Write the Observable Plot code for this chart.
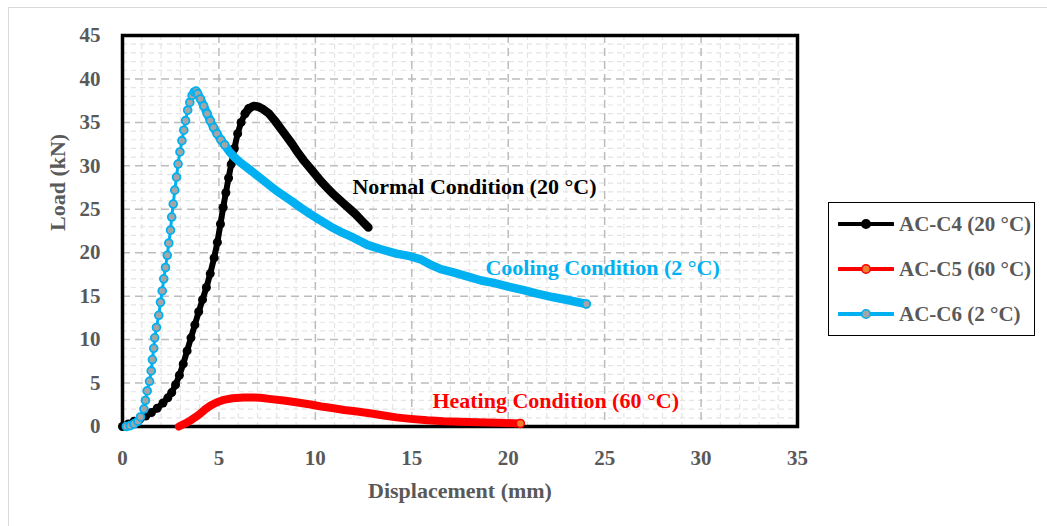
<!DOCTYPE html>
<html><head><meta charset="utf-8">
<script src="https://cdn.jsdelivr.net/npm/d3@7"></script>
<script src="https://cdn.jsdelivr.net/npm/@observablehq/plot@0.6"></script>
<style>
html,body{margin:0;padding:0;background:#fff;}
body{width:1047px;height:526px;overflow:hidden;position:relative;font-family:"Liberation Serif",serif;}
#outer{position:absolute;left:8px;top:7px;width:1100px;height:600px;border:1.5px solid #d9d9d9;box-sizing:border-box;}
#chart{position:absolute;left:0;top:0;}
#legend{position:absolute;left:828px;top:202px;width:207px;height:134px;border:1.5px solid #000;box-sizing:border-box;background:#fff;}
.row{position:absolute;left:9px;height:26px;display:flex;align-items:center;font-weight:bold;font-size:21px;color:#595959;white-space:nowrap;}
.row svg{margin-right:5px;}
</style>
</head>
<body>
<div id="outer"></div>
<div id="chart"></div>
<div id="legend"></div>
<script>
// ---- data ----
const xTicks = [0, 5, 10, 15, 20, 25, 30, 35];
const yTicks = [0, 5, 10, 15, 20, 25, 30, 35, 40, 45];

// AC-C4 (20 °C) — Normal condition
const c4X = [0, 0.3, 0.6, 0.9, 1.2, 1.5, 1.8, 2.1, 2.35, 2.55, 2.75, 2.95, 3.15, 3.35, 3.55, 3.75, 3.95, 4.15, 4.35, 4.55, 4.75, 4.92, 5.08, 5.22, 5.36, 5.5, 5.64, 5.8, 5.97, 6.15, 6.35, 6.55, 6.8, 7.05, 7.3, 7.6, 7.9, 8.2, 8.5, 8.8, 9.1, 9.4, 9.7, 10.0, 10.3, 10.6, 10.9, 11.2, 11.5, 11.8, 12.1, 12.4, 12.75];
const c4Y = [0, 0.3, 0.6, 0.85, 1.2, 1.6, 2.1, 2.7, 3.3, 3.9, 4.8, 5.9, 7.2, 8.7, 10.2, 11.7, 13.2, 14.6, 16.0, 17.6, 19.4, 21.2, 23.3, 25.2, 26.9, 28.6, 30.2, 32.0, 33.7, 35.0, 36.0, 36.6, 36.9, 36.8, 36.5, 36.0, 35.2, 34.3, 33.4, 32.5, 31.5, 30.6, 29.8, 29.0, 28.2, 27.5, 26.8, 26.2, 25.6, 25.0, 24.4, 23.7, 22.9];

// AC-C5 (60 °C) — Heating condition
const c5X = [2.92, 3.2, 3.53, 3.8, 4.04, 4.3, 4.56, 4.9, 5.25, 5.7, 6.29, 6.7, 7.15, 7.7, 8.36, 9.0, 9.75, 10.3, 10.78, 11.5, 12.17, 12.9, 13.55, 14.2, 14.93, 15.8, 16.66, 17.5, 18.39, 19.5, 20.63];
const c5Y = [0.0, 0.3, 0.7, 1.1, 1.5, 2.0, 2.4, 2.8, 3.06, 3.25, 3.35, 3.35, 3.3, 3.15, 3.0, 2.8, 2.53, 2.3, 2.15, 1.9, 1.72, 1.5, 1.27, 1.05, 0.88, 0.72, 0.61, 0.55, 0.5, 0.43, 0.35];

// AC-C6 (2 °C) — Cooling condition
const c6X = [0.2, 0.4, 0.6, 0.8, 0.93, 1.11, 1.19, 1.28, 1.4, 1.49, 1.55, 1.62, 1.67, 1.76, 1.88, 1.97, 2.06, 2.14, 2.23, 2.32, 2.4, 2.49, 2.55, 2.63, 2.71, 2.8, 2.88, 2.98, 3.08, 3.18, 3.27, 3.38, 3.49, 3.61, 3.72, 3.82,
  3.9, 4.04, 4.21, 4.39, 4.55, 4.72, 4.9, 5.1, 5.3, 5.55, 5.8, 6.1, 6.46, 6.8, 7.15, 7.6, 8.0, 8.4, 8.8, 9.23, 9.7, 10.2, 10.8, 11.4, 12.0, 12.7, 13.4, 14.2, 14.9, 15.5, 16.0, 16.5, 17.2, 18.0, 18.6, 19.3, 20.0, 20.8, 21.5, 22.3, 23.2, 24.05];
const c6Y = [0.0, 0.1, 0.3, 0.6, 1.1, 2.0, 3.0, 4.1, 5.2, 6.4, 7.7, 9.0, 10.2, 11.4, 12.8, 14.3, 15.6, 17.0, 18.3, 19.7, 21.1, 22.6, 24.1, 25.6, 27.2, 28.7, 30.2, 31.6, 32.9, 34.1, 35.2, 36.4, 37.3, 38.1, 38.5, 38.6,
  38.3, 37.7, 36.9, 36.0, 35.2, 34.4, 33.7, 33.0, 32.4, 31.6, 31.0, 30.4, 29.8, 29.2, 28.6, 27.8, 27.1, 26.5, 25.9, 25.2, 24.5, 23.8, 23.0, 22.3, 21.7, 20.9, 20.4, 19.9, 19.6, 19.2, 18.6, 18.1, 17.7, 17.2, 16.8, 16.5, 16.1, 15.7, 15.3, 14.9, 14.5, 14.1];

const seriesNames = ["AC-C4 (20 °C)", "AC-C5 (60 °C)", "AC-C6 (2 °C)"];
const annotationText = ["Normal Condition (20 °C)", "Cooling Condition (2 °C)", "Heating Condition (60 °C)"];
const annotationX = [11.92, 18.82, 16.07];
const annotationY = [27.6, 18.3, 2.9];

// ---- build tables ----
const c4 = c4X.map((x, i) => ({x, y: c4Y[i]}));
const c5 = c5X.map((x, i) => ({x, y: c5Y[i]}));
const c6 = c6X.map((x, i) => ({x, y: c6Y[i]}));
const annotations = annotationText.map((t, i) => ({text: t, x: annotationX[i], y: annotationY[i]}));
const annColors = ["#000000", "#00b0f0", "#ff0000"];
const c4Peak = c4X[c4Y.indexOf(d3.max(c4Y))];
const c6Peak = c6X[c6Y.indexOf(d3.max(c6Y))];

const minorX = d3.range(1, 35).filter(v => v % 5 !== 0);
const minorY = d3.range(1, 45).filter(v => v % 5 !== 0);

const chart = Plot.plot({
  width: 830, height: 526,
  marginLeft: 122, marginRight: 33, marginTop: 35, marginBottom: 100,
  x: {domain: [0, 35], ticks: xTicks, tickSize: 0, tickPadding: 24, label: null},
  y: {domain: [0, 45], ticks: yTicks, tickSize: 0, tickPadding: 22, label: null},
  style: {fontFamily: "Liberation Serif, serif", fontSize: "21px", fontWeight: "bold", color: "#595959", background: "transparent"},
  marks: [
    Plot.ruleX(minorX, {stroke: "#e4e4e4", strokeWidth: 1.2, strokeDasharray: "5,4"}),
    Plot.ruleY(minorY, {stroke: "#e4e4e4", strokeWidth: 1.2, strokeDasharray: "5,4"}),
    Plot.ruleX(xTicks.slice(1, -1), {stroke: "#bcbcbc", strokeWidth: 1.5, strokeDasharray: "8,5"}),
    Plot.ruleY(yTicks.slice(1, -1), {stroke: "#bcbcbc", strokeWidth: 1.5, strokeDasharray: "8,5"}),
    Plot.frame({stroke: "#000", strokeWidth: 3.5}),
    Plot.text(["Displacement (mm)"], {frameAnchor: "bottom", dy: 71, fontSize: 22, fill: "#595959"}),
    Plot.text(["Load (kN)"], {frameAnchor: "left", dx: -65, rotate: -90, fontSize: 22, fill: "#595959"}),
    // AC-C4
    Plot.line(c4, {x: "x", y: "y", stroke: "#000", strokeWidth: 6, strokeLinejoin: "round", strokeLinecap: "round"}),
    Plot.line(c4, {x: "x", y: "y", filter: d => d.x >= c4Peak - 0.5, stroke: "#000", strokeWidth: 8.5, strokeLinejoin: "round", strokeLinecap: "round"}),
    Plot.dot(c4, {x: "x", y: "y", filter: d => d.x < c4Peak, r: 4.5, fill: "#000"}),
    // AC-C5
    Plot.line(c5, {x: "x", y: "y", stroke: "#ff0000", strokeWidth: 8, strokeLinecap: "round", strokeLinejoin: "round"}),
    Plot.dot(c5, Plot.selectLast({x: "x", y: "y", r: 4, fill: "#ed7d31", stroke: "#ff0000", strokeWidth: 1.5})),
    // AC-C6
    Plot.line(c6, {x: "x", y: "y", stroke: "#00b0f0", strokeWidth: 3}),
    Plot.line(c6, {x: "x", y: "y", filter: d => d.x >= c6Peak, stroke: "#00b0f0", strokeWidth: 8.5, strokeLinecap: "round", strokeLinejoin: "round"}),
    Plot.dot(c6, {x: "x", y: "y", filter: d => d.x <= 5.3, r: 3.9, fill: "#a5a5a5", stroke: "#00b0f0", strokeWidth: 1.8}),
    Plot.dot(c6, Plot.selectLast({x: "x", y: "y", r: 3.9, fill: "#a5a5a5", stroke: "#00b0f0", strokeWidth: 1.8})),
    // annotations
    Plot.text(annotations, {x: "x", y: "y", text: "text", fill: (d) => annColors[annotationText.indexOf(d.text)], textAnchor: "start", fontSize: 22})
  ]
});
document.getElementById("chart").appendChild(chart);

// ---- legend ----
const legendStyles = [
  {stroke: "#000000", fill: "#000000"},
  {stroke: "#ff0000", fill: "#ed7d31"},
  {stroke: "#00b0f0", fill: "#a5a5a5"}
];
const legend = document.getElementById("legend");
const rowTops = [8, 53, 98];
seriesNames.forEach((name, i) => {
  const row = document.createElement("div");
  row.className = "row";
  row.style.top = rowTops[i] + "px";
  const s = legendStyles[i];
  row.innerHTML = `<svg width="56" height="14"><line x1="1" y1="7" x2="55" y2="7" stroke="${s.stroke}" stroke-width="4" stroke-linecap="round"/><circle cx="28" cy="7" r="4.3" fill="${s.fill}" stroke="${s.stroke}" stroke-width="1.6"/></svg><span>${name}</span>`;
  legend.appendChild(row);
});
</script>
</body></html>
